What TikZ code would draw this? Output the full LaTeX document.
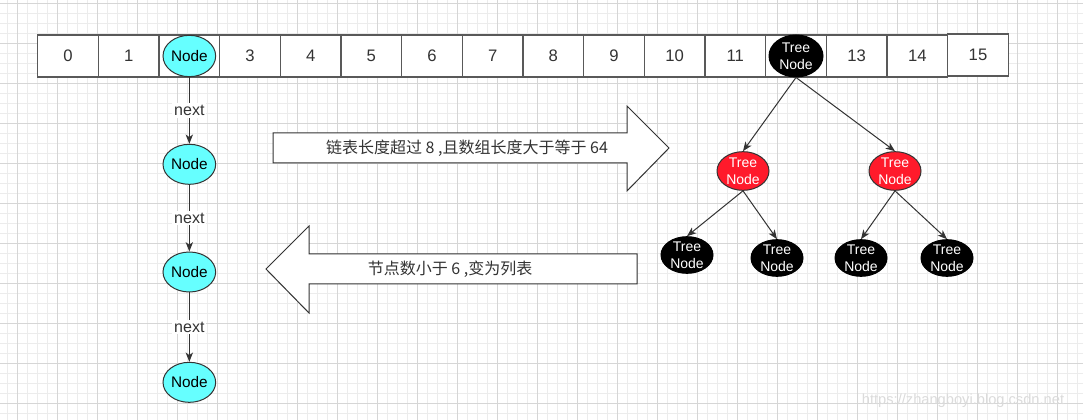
\documentclass[tikz,border=0pt]{standalone}
\usepackage{fontspec}
\setmainfont{Liberation Sans}
\newfontfamily\cjk{Noto Sans CJK SC}
\usetikzlibrary{positioning,arrows.meta,shapes.geometric}
\definecolor{nodecyan}{RGB}{102,255,255}
\definecolor{treered}{RGB}{255,26,43}
\definecolor{gridminor}{RGB}{236,236,236}
\definecolor{gridmajor}{RGB}{214,214,214}
\definecolor{edgegray}{RGB}{51,51,51}
\tikzset{cell/.style={rectangle,draw=black!65,line width=1pt,fill=white,text=edgegray,
	   minimum width=45.5pt,minimum height=31.5pt,inner sep=0pt,outer sep=0pt,
	   font=\fontsize{12.5}{14}\selectfont},
	 lnode/.style={ellipse,draw=edgegray,fill=nodecyan,line width=0.75pt,
	   minimum width=39.5pt,minimum height=30pt,inner sep=0pt,
	   font=\fontsize{11.5}{13}\selectfont},
	 tnode/.style={ellipse,draw=black,fill=black,text=white,line width=0.75pt,align=center,
	   minimum width=39pt,minimum height=27.5pt,inner xsep=0pt,inner ysep=-3pt,
	   font=\fontsize{10.5}{12.5}\selectfont},
	 rnode/.style={tnode,fill=treered,draw=edgegray,minimum height=29pt},
	 link/.style={draw=edgegray,line width=0.75pt,-{Stealth[length=7pt,width=5.5pt,inset=2pt]}},
	 nextlbl/.style={fill=white,inner sep=1.5pt,text=edgegray,font=\fontsize{12}{14}\selectfont},
	 blockarrow/.style={draw=edgegray,line width=0.75pt,fill=white,line join=miter},
	 arrowtext/.style={text=edgegray,font=\cjk\fontsize{12}{14}\selectfont},
	 node distance = 50pt
	 }

\begin{document}
\begin{tikzpicture}[x=0.75pt,y=-0.75pt]
	% background grid
	\useasboundingbox (0,0) rectangle (1083,420);
	\fill[white] (0,0) rectangle (1083,420);
	\foreach \x in {7,17,...,1077} \draw[gridminor,line width=0.75pt] (\x,0) -- (\x,420);
	\foreach \y in {4,14,...,414} \draw[gridminor,line width=0.75pt] (0,\y) -- (1083,\y);
	\foreach \x in {17,57,...,1057} \draw[gridmajor,line width=0.75pt] (\x,0) -- (\x,420);
	\foreach \y in {4,44,...,404} \draw[gridmajor,line width=0.75pt] (0,\y) -- (1083,\y);
	% table
	\node[cell] (c0) at (68,56) {0};
	\node[cell] (c1) [right=0pt of c0] {1};
	\node[cell] (c2) [right=0pt of c1] {};
	\node[cell] (c3) [right=0pt of c2] {3};
	\node[cell] (c4) [right=0pt of c3] {4};
	\node[cell] (c5) [right=0pt of c4] {5};
	\node[cell] (c6) [right=0pt of c5] {6};
	\node[cell] (c7) [right=0pt of c6] {7};
	\node[cell] (c8) [right=0pt of c7] {8};
	\node[cell] (c9) [right=0pt of c8] {9};
	\node[cell] (c10) [right=0pt of c9] {10};
	\node[cell] (c11) [right=0pt of c10] {11};
	\node[cell] (c12) [right=0pt of c11] {};
	\node[cell] (c13) [right=0pt of c12] {13};
	\node[cell] (c14) [right=0pt of c13] {14};
	\node[cell] (c15) [right=0pt of c14,yshift=0.75pt] {15};
	% linked list
	\node[lnode,minimum height=31pt] (n0) at (c2) {Node};
	\node[lnode] (n1) [below= of n0] {Node};
	\node[lnode] (n2) [below= of n1] {Node};
	\node[lnode] (n3) [below=52pt of n2] {Node};
	\draw[link] (n0.south) to node[nextlbl] {next} (n1.north);
	\draw[link] (n1.south) to node[nextlbl] {next} (n2.north);
	\draw[link] (n2.south) to node[nextlbl] {next} (n3.north);
	% tree
	\node[tnode,minimum width=40.5pt,minimum height=31.5pt] (root) at (c12) {Tree\\Node};
	\node[rnode] (r1) at (743,171) {Tree\\Node};
	\node[rnode] (r2) at (895,171) {Tree\\Node};
	\node[tnode] (b1) at (687,255) {Tree\\Node};
	\node[tnode] (b2) at (777,258) {Tree\\Node};
	\node[tnode] (b3) at (861,258) {Tree\\Node};
	\node[tnode] (b4) at (947,258) {Tree\\Node};
	\draw[link] (root.south) to (r1.north);
	\draw[link] (root.south) to (r2.north);
	\draw[link] (r1.south) to (b1.north); \draw[link] (r1.south) to (b2.north);
	\draw[link] (r2.south) to (b3.north); \draw[link] (r2.south) to (b4.north);
	% conversion arrows
	\draw[blockarrow] (273,133) -- (627,133) -- (627,106) -- (669,148) -- (627,191)
	  -- (627,163) -- (273,163) -- cycle;
	\node[arrowtext] (totree) at (467,148) {链表长度超过 8 ,且数组长度大于等于 64};
	\draw[blockarrow] (637,254) -- (309,254) -- (309,226) -- (266,269) -- (309,313)
	  -- (309,284) -- (637,284) -- cycle;
	\node[arrowtext] (tolist) at (450,269) {节点数小于 6 ,变为列表};
	% watermark
	\node[text=black!14,font=\fontsize{11}{13}\selectfont] (mark) at (963,401) {https://zhangboyi.blog.csdn.net};
\end{tikzpicture}
\end{document}
